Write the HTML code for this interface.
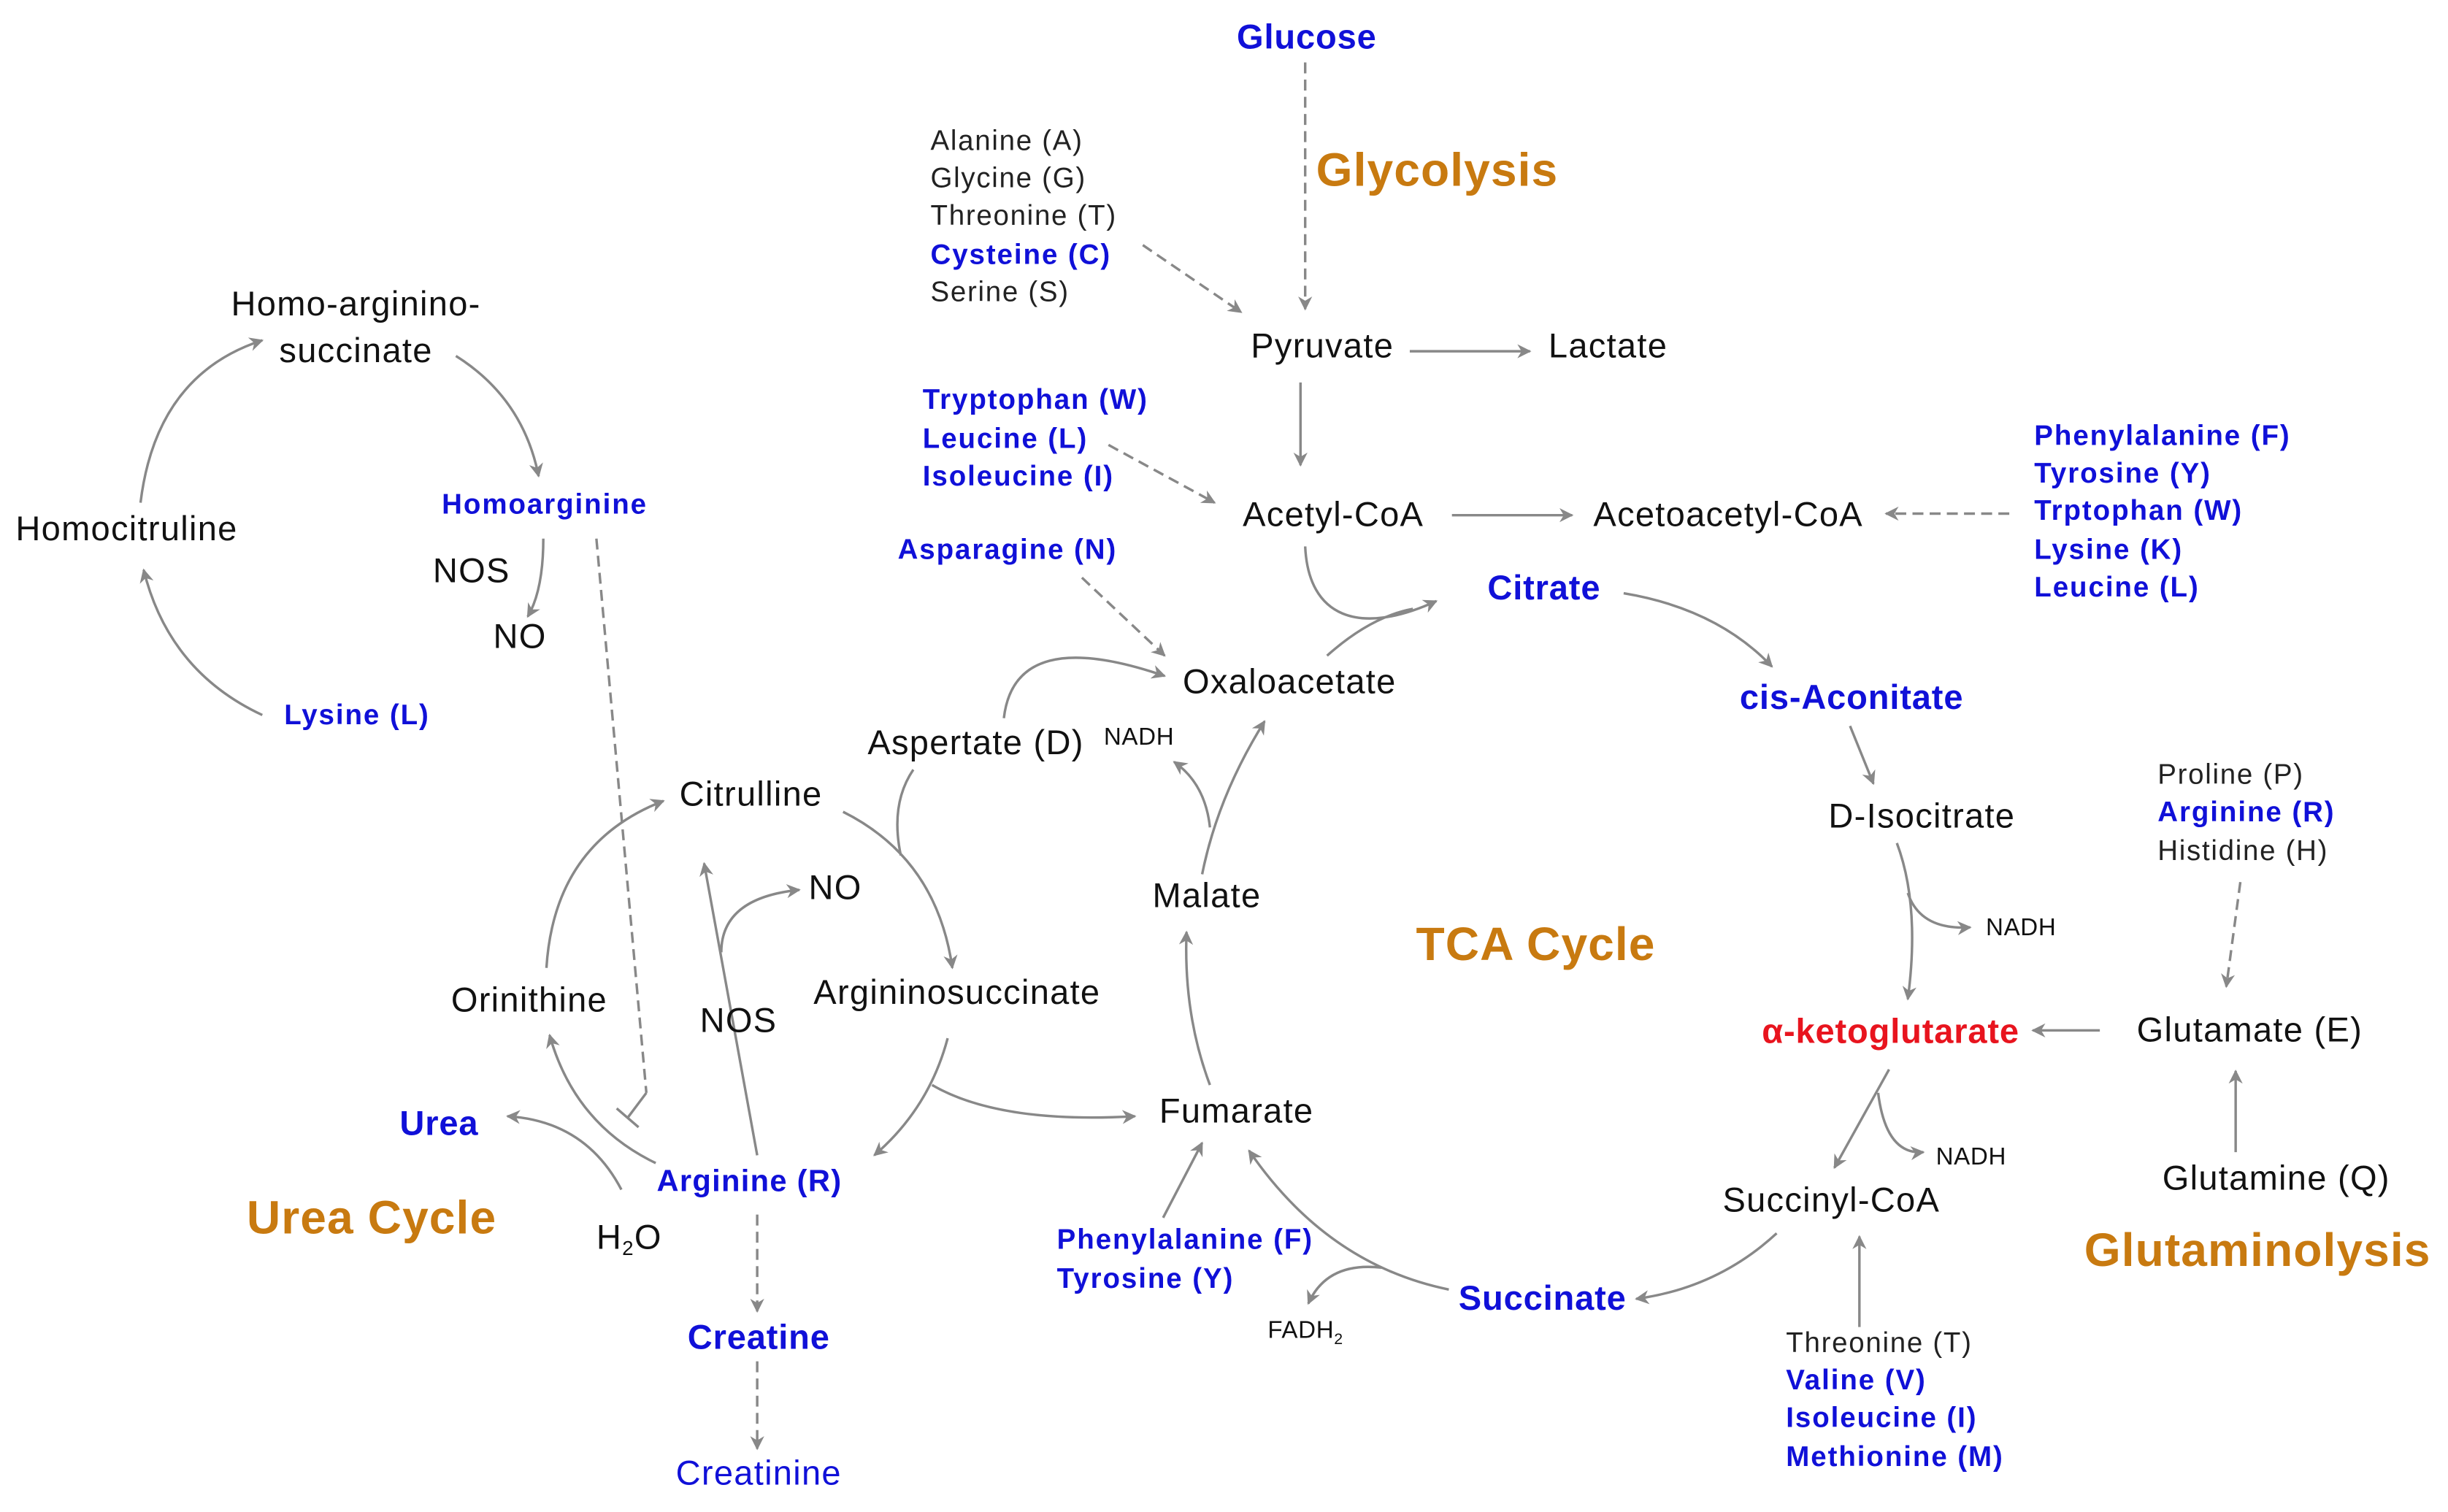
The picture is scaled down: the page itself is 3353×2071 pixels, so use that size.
<!DOCTYPE html>
<html><head><meta charset="utf-8"><style>
html,body{margin:0;padding:0;background:#fff;}
svg{display:block}
text{font-family:"Liberation Sans",Arial,sans-serif;}
.k{font-size:22px;fill:#111;letter-spacing:0.6px}
.b{font-size:19.5px;fill:#1010d8;font-weight:bold;letter-spacing:0.6px}
.bl{font-size:22px;fill:#1010d8;font-weight:bold;letter-spacing:0.4px}
.s{font-size:18px;fill:#222;letter-spacing:0.8px}
.sb{font-size:18px;fill:#1010d8;font-weight:bold;letter-spacing:0.9px}
.o{font-size:30px;fill:#c87a10;font-weight:bold;letter-spacing:0.5px}
.n{font-size:15.5px;fill:#111;letter-spacing:0.3px}
path,line{stroke:#888;stroke-width:1.6;fill:none}
.d{stroke-dasharray:7,4}
</style></head><body>
<svg width="3353" height="2071" viewBox="0 0 1568 968.5" xmlns="http://www.w3.org/2000/svg">
<defs><marker id="a" viewBox="0 0 10 10" refX="9" refY="5" markerWidth="9" markerHeight="9" orient="auto" markerUnits="userSpaceOnUse"><path d="M0,0 L10,5 L0,10 L3,5 z" style="fill:#888;stroke:none"/></marker></defs>

<text x="837" y="31" class="bl" text-anchor="middle">Glucose</text>
<text x="843" y="119" class="o">Glycolysis</text>
<line x1="836" y1="40" x2="836" y2="198" class="d" marker-end="url(#a)"/>
<text x="596" y="96" class="s">Alanine (A)</text>
<text x="596" y="120" class="s">Glycine (G)</text>
<text x="596" y="144" class="s">Threonine (T)</text>
<text x="596" y="169" class="sb">Cysteine (C)</text>
<text x="596" y="193" class="s">Serine (S)</text>
<line x1="732" y1="157" x2="795" y2="200" class="d" marker-end="url(#a)"/>
<text x="847" y="229" class="k" text-anchor="middle">Pyruvate</text>
<line x1="903" y1="225" x2="980" y2="225" marker-end="url(#a)"/>
<text x="1030" y="229" class="k" text-anchor="middle">Lactate</text>
<line x1="833" y1="245" x2="833" y2="298" marker-end="url(#a)"/>
<text x="591" y="262" class="sb">Tryptophan (W)</text>
<text x="591" y="287" class="sb">Leucine (L)</text>
<text x="591" y="311" class="sb">Isoleucine (I)</text>
<line x1="710" y1="285" x2="778" y2="322" class="d" marker-end="url(#a)"/>
<text x="854" y="337" class="k" text-anchor="middle">Acetyl-CoA</text>
<line x1="930" y1="330" x2="1007" y2="330" marker-end="url(#a)"/>
<text x="1107" y="337" class="k" text-anchor="middle">Acetoacetyl-CoA</text>
<line x1="1287" y1="329" x2="1208" y2="329" class="d" marker-end="url(#a)"/>
<text x="1303" y="285" class="sb">Phenylalanine (F)</text>
<text x="1303" y="309" class="sb">Tyrosine (Y)</text>
<text x="1303" y="333" class="sb">Trptophan (W)</text>
<text x="1303" y="358" class="sb">Lysine (K)</text>
<text x="1303" y="382" class="sb">Leucine (L)</text>
<text x="575" y="358" class="sb">Asparagine (N)</text>
<line x1="693" y1="370" x2="746" y2="420" class="d" marker-end="url(#a)"/>
<text x="826" y="444" class="k" text-anchor="middle">Oxaloacetate</text>
<path d="M836,350 C838,395 870,408 920,385" marker-end="url(#a)"/>
<path d="M850,420 Q878,395 905,390"/>
<text x="989" y="384" class="bl" text-anchor="middle">Citrate</text>
<path d="M1040,380 Q1100,390 1135,427" marker-end="url(#a)"/>
<text x="1186" y="454" class="bl" text-anchor="middle">cis-Aconitate</text>
<line x1="1185" y1="465" x2="1200" y2="502" marker-end="url(#a)"/>
<text x="1231" y="530" class="k" text-anchor="middle">D-Isocitrate</text>
<path d="M1215,540 Q1230,580 1222,640" marker-end="url(#a)"/>
<path d="M1222,572 Q1230,596 1262,594" marker-end="url(#a)"/>
<text x="1272" y="599" class="n">NADH</text>
<text x="1211" y="668" class="bl" text-anchor="middle" style="fill:#e8141e">α-ketoglutarate</text>
<line x1="1345" y1="660" x2="1302" y2="660" marker-end="url(#a)"/>
<text x="1441" y="667" class="k" text-anchor="middle">Glutamate (E)</text>
<text x="1382" y="502" class="s">Proline (P)</text>
<text x="1382" y="526" class="sb">Arginine (R)</text>
<text x="1382" y="551" class="s">Histidine (H)</text>
<line x1="1435" y1="565" x2="1426" y2="632" class="d" marker-end="url(#a)"/>
<text x="1458" y="762" class="k" text-anchor="middle">Glutamine (Q)</text>
<line x1="1432" y1="738" x2="1432" y2="686" marker-end="url(#a)"/>
<text x="1335" y="811" class="o">Glutaminolysis</text>
<path d="M1210,685 Q1195,712 1175,748" marker-end="url(#a)"/>
<path d="M1203,700 Q1208,740 1232,738" marker-end="url(#a)"/>
<text x="1240" y="746" class="n">NADH</text>
<text x="1173" y="776" class="k" text-anchor="middle">Succinyl-CoA</text>
<text x="1144" y="866" class="s">Threonine (T)</text>
<text x="1144" y="890" class="sb">Valine (V)</text>
<text x="1144" y="914" class="sb">Isoleucine (I)</text>
<text x="1144" y="939" class="sb">Methionine (M)</text>
<line x1="1191" y1="850" x2="1191" y2="792" marker-end="url(#a)"/>
<path d="M1138,790 Q1100,825 1048,832" marker-end="url(#a)"/>
<text x="988" y="839" class="bl" text-anchor="middle">Succinate</text>
<path d="M928,826 Q850,810 800,737" marker-end="url(#a)"/>
<path d="M885,812 Q850,808 838,835" marker-end="url(#a)"/>
<text x="812" y="857" class="n">FADH<tspan font-size="10" dy="4">2</tspan></text>
<text x="677" y="800" class="sb">Phenylalanine (F)</text>
<text x="677" y="825" class="sb">Tyrosine (Y)</text>
<line x1="745" y1="780" x2="770" y2="732" marker-end="url(#a)"/>
<text x="792" y="719" class="k" text-anchor="middle">Fumarate</text>
<path d="M775,695 Q758,650 760,597" marker-end="url(#a)"/>
<text x="773" y="581" class="k" text-anchor="middle">Malate</text>
<path d="M770,560 Q780,510 810,462" marker-end="url(#a)"/>
<path d="M775,530 Q772,502 752,488" marker-end="url(#a)"/>
<text x="707" y="477" class="n">NADH</text>
<text x="907" y="615" class="o">TCA Cycle</text>
<text x="625" y="483" class="k" text-anchor="middle">Aspertate (D)</text>
<path d="M643,460 Q650,400 746,433" marker-end="url(#a)"/>
<path d="M585,493 Q570,515 577,548"/>
<text x="481" y="516" class="k" text-anchor="middle">Citrulline</text>
<path d="M540,520 Q600,550 610,620" marker-end="url(#a)"/>
<text x="613" y="643" class="k" text-anchor="middle">Argininosuccinate</text>
<path d="M597,695 Q640,720 727,715" marker-end="url(#a)"/>
<path d="M607,665 Q595,710 560,740" marker-end="url(#a)"/>
<text x="480" y="763" class="b" text-anchor="middle">Arginine (R)</text>
<line x1="485" y1="740" x2="451" y2="553" marker-end="url(#a)"/>
<text x="473" y="661" class="k" text-anchor="middle">NOS</text>
<path d="M462,610 Q462,575 512,570" marker-end="url(#a)"/>
<text x="535" y="576" class="k" text-anchor="middle">NO</text>
<text x="339" y="648" class="k" text-anchor="middle">Orinithine</text>
<path d="M420,745 Q368,720 352,663" marker-end="url(#a)"/>
<path d="M350,620 Q355,540 425,513" marker-end="url(#a)"/>
<text x="256" y="727" class="bl">Urea</text>
<path d="M398,762 Q375,718 325,715" marker-end="url(#a)"/>
<text x="382" y="800" class="k">H<tspan font-size="13" dy="4">2</tspan><tspan dy="-4">O</tspan></text>
<text x="158" y="790" class="o">Urea Cycle</text>
<text x="486" y="864" class="bl" text-anchor="middle">Creatine</text>
<line x1="485" y1="778" x2="485" y2="840" class="d" marker-end="url(#a)"/>
<text x="486" y="951" class="k" text-anchor="middle" style="fill:#1010d8">Creatinine</text>
<line x1="485" y1="872" x2="485" y2="928" class="d" marker-end="url(#a)"/>
<text x="283" y="329" class="sb">Homoarginine</text>
<line x1="382" y1="345" x2="414" y2="700" class="d"/>
<line x1="414" y1="700" x2="402" y2="716"/>
<line x1="395" y1="710" x2="409" y2="722"/>
<text x="302" y="373" class="k" text-anchor="middle">NOS</text>
<text x="333" y="415" class="k" text-anchor="middle">NO</text>
<path d="M348,345 Q348,378 338,395" marker-end="url(#a)"/>
<text x="228" y="202" class="k" text-anchor="middle">Homo-arginino-</text>
<text x="228" y="232" class="k" text-anchor="middle">succinate</text>
<text x="10" y="346" class="k">Homocitruline</text>
<text x="182" y="464" class="sb">Lysine (L)</text>
<path d="M168,458 Q108,430 92,365" marker-end="url(#a)"/>
<path d="M90,322 Q100,240 168,218" marker-end="url(#a)"/>
<path d="M292,228 Q335,255 345,305" marker-end="url(#a)"/>
</svg>
</body></html>
